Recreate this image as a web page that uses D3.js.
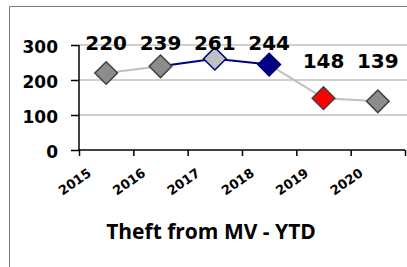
<!DOCTYPE html>
<html><head><meta charset="utf-8">
<script src="https://cdn.jsdelivr.net/npm/d3@7"></script>
<style>html,body{margin:0;padding:0;background:#fff;overflow:hidden}</style>
</head><body>
<script>
const years = ["2015","2016","2017","2018","2019","2020"];
const values = [220, 239, 261, 244, 148, 139];
const markerFill = ["#8c8c8c","#8c8c8c","#c0c0c0","#000080","#ff0000","#8c8c8c"];
const markerStroke = ["#404040","#404040","#000080","#000080","#404040","#404040"];
const segmentColor = ["#c0c0c0","#000080","#000080","#c0c0c0","#c0c0c0"];
const yTicks = [0, 100, 200, 300];
const title = "Theft from MV - YTD";

const W = 407, H = 267;
const svg = d3.select("body").append("svg").attr("width", W).attr("height", H);

// frame
svg.append("path").attr("d", `M9.5,${H} V6.5 H${W}`).attr("fill","none").attr("stroke","#7f7f7f").attr("stroke-width",1);

const x = d3.scaleBand().domain(years).range([79, 405]).paddingInner(0).paddingOuter(0);
const y = d3.scaleLinear().domain([0, 300]).range([150, 45]);
const cx = d => x(d) + x.bandwidth()/2;

// gridlines
svg.append("g").selectAll("line").data(yTicks.filter(t => t > 0)).join("line")
  .attr("x1", 79).attr("x2", W).attr("y1", d => y(d)).attr("y2", d => y(d))
  .attr("stroke", "#c0c0c0").attr("stroke-width", 1.5);

// y axis
const yAxis = svg.append("g").attr("transform", "translate(79,0)")
  .call(d3.axisLeft(y).tickValues(yTicks).tickSize(8).tickPadding(13).tickFormat(d3.format("d")));
yAxis.select(".domain").attr("stroke", "#000").attr("stroke-width", 1.5).attr("d", `M0,${y(300)}V${y(0)}`);
yAxis.selectAll(".tick line").attr("stroke", "#000").attr("stroke-width", 1.5);
yAxis.selectAll(".tick text").attr("font-family", "DejaVu Sans").attr("font-weight", "bold")
  .attr("font-size", 17).attr("fill", "#000").attr("dy", "0.42em");

// x axis
const xAxis = svg.append("g").attr("transform", `translate(0,${y(0)})`)
  .call(d3.axisBottom(d3.scaleLinear().domain([0, years.length]).range([79, 405]))
    .tickValues(d3.range(years.length + 1)).tickSize(6).tickFormat(""));
xAxis.select(".domain").attr("stroke", "#000").attr("stroke-width", 1.5).attr("d", "M79,0H405");
xAxis.selectAll(".tick line").attr("stroke", "#000").attr("stroke-width", 1.5);

svg.append("g").selectAll("text").data(years).join("text")
  .attr("transform", d => `translate(${cx(d) - 14},${y(0) + 25}) rotate(-35)`)
  .attr("text-anchor", "end")
  .attr("font-family", "DejaVu Sans").attr("font-weight", "bold").attr("font-size", 13)
  .attr("fill", "#000").text(d => d);

// line segments
const pts = years.map((d, i) => [cx(d), y(values[i])]);
svg.append("g").selectAll("line").data(d3.range(pts.length - 1)).join("line")
  .attr("x1", i => pts[i][0]).attr("y1", i => pts[i][1])
  .attr("x2", i => pts[i+1][0]).attr("y2", i => pts[i+1][1])
  .attr("stroke", i => segmentColor[i]).attr("stroke-width", 2);

// markers
const sym = d3.symbol().type(d3.symbolSquare).size(16*16);
svg.append("g").selectAll("path").data(years).join("path")
  .attr("d", sym)
  .attr("transform", (d, i) => `translate(${pts[i][0]},${pts[i][1]}) rotate(45)`)
  .attr("fill", (d, i) => markerFill[i]).attr("stroke", (d, i) => markerStroke[i]).attr("stroke-width", 1.5);

// data labels
svg.append("g").selectAll("text").data(years).join("text")
  .attr("x", d => cx(d))
  .attr("y", (d, i) => values[i] > 200 ? y(300) + 5 : y(200) - 12)
  .attr("text-anchor", "middle")
  .attr("font-family", "DejaVu Sans").attr("font-weight", "bold").attr("font-size", 20)
  .attr("fill", "#000").text((d, i) => values[i]);

// title
svg.append("text").attr("x", 211).attr("y", 239).attr("text-anchor", "middle")
  .attr("font-family", "Open Sans").attr("font-weight", "bold").attr("font-size", 21)
  .attr("fill", "#000").text(title);
</script>
</body></html>
